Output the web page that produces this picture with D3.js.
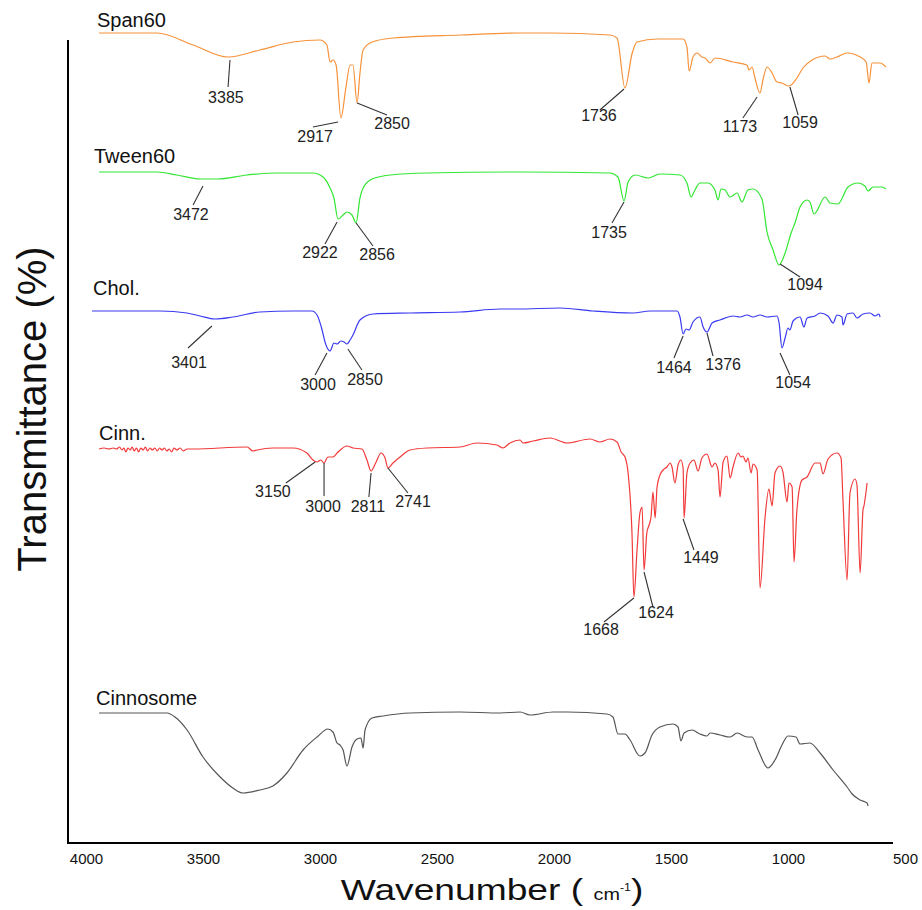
<!DOCTYPE html>
<html>
<head>
<meta charset="utf-8">
<script src="https://cdn.jsdelivr.net/npm/d3@7"></script>
<style>
  body { margin: 0; background: #fff; }
  svg text { font-family: "Liberation Sans", Arial, sans-serif; }
</style>
</head>
<body>
<div id="chart"></div>
<script>
// FTIR spectra, [wavenumber, transmittance (offset within each trace)]
var span60 = [[3921,100],[3681,100],[3531,88],[3386,76],[3254,83],[3117,91],[3005,93],[2976,88],[2963,71],[2951,73],[2938,68],[2918,15],[2897,46],[2880,68],[2868,68],[2851,30],[2839,60],[2826,83],[2789,91],[2702,95],[2424,98],[2175,100],[2051,100],[1802,98],[1773,95],[1740,45],[1710,80],[1690,91],[1607,94],[1499,94],[1483,86],[1474,62],[1458,76],[1441,80],[1421,76],[1408,75],[1387,70],[1367,75],[1292,71],[1234,68],[1226,63],[1213,66],[1201,55],[1180,40],[1168,53],[1151,66],[1130,60],[1110,51],[1089,50],[1060,47],[1027,55],[1002,65],[964,73],[910,77],[890,74],[861,76],[819,80],[765,76],[740,71],[728,50],[716,70],[682,70],[658,66]];

var tween60 = [[3921,100],[3681,100],[3598,97],[3502,93],[3432,93],[3307,97],[3183,99],[3034,99],[2992,95],[2963,84],[2947,74],[2930,53],[2909,57],[2893,60],[2872,57],[2855,49],[2839,74],[2826,84],[2789,93],[2714,97],[2561,99],[2175,100],[1802,99],[1769,95],[1744,71],[1727,90],[1698,97],[1644,94],[1595,98],[1512,97],[1483,89],[1466,75],[1450,82],[1429,89],[1396,89],[1367,82],[1354,72],[1342,83],[1325,82],[1304,75],[1275,79],[1255,70],[1230,82],[1209,83],[1172,73],[1151,40],[1126,22],[1101,7],[1076,19],[1051,39],[1035,49],[1014,65],[985,72],[973,70],[956,58],[910,75],[890,69],[857,68],[815,85],[774,89],[745,86],[732,81],[711,85],[674,85],[658,83]];

var chol = [[3950,100],[3668,100],[3556,98],[3502,95],[3440,92],[3366,94],[3254,99],[3117,100],[3038,100],[3017,96],[2996,81],[2984,69],[2963,60],[2947,68],[2934,67],[2918,70],[2905,69],[2893,67],[2880,71],[2868,76],[2839,91],[2785,97],[2631,98],[2424,99],[2258,102],[2188,102],[2009,103],[1873,100],[1707,98],[1636,100],[1524,100],[1512,94],[1499,77],[1487,82],[1474,81],[1458,89],[1429,94],[1416,84],[1400,79],[1379,88],[1346,91],[1292,95],[1263,94],[1234,96],[1209,94],[1180,96],[1151,94],[1110,95],[1101,88],[1089,63],[1076,73],[1064,83],[1056,81],[1043,90],[1014,94],[998,84],[985,93],[952,95],[931,98],[898,95],[877,88],[861,96],[840,94],[836,86],[819,97],[794,98],[778,93],[753,97],[724,98],[703,95],[687,97],[682,94]];

var cinn = [[3921,99],[3900,100],[3880,99],[3862,100],[3848,99],[3836,101],[3826,98],[3818,100],[3810,96],[3801,100],[3792,98],[3784,101],[3775,97],[3766,100],[3757,96],[3748,100],[3738,98],[3729,101],[3720,97],[3710,100],[3700,98],[3690,100],[3680,97],[3670,100],[3660,98],[3650,100],[3640,97],[3630,99],[3620,96],[3610,100],[3598,98],[3585,100],[3572,97],[3556,99],[3531,99],[3307,101],[3283,97],[3266,98],[3200,100],[3117,100],[3059,95],[3034,88],[3017,86],[3001,88],[2988,85],[2972,91],[2951,91],[2930,96],[2893,102],[2868,100],[2831,99],[2810,88],[2793,77],[2772,86],[2752,95],[2735,90],[2723,80],[2702,85],[2673,91],[2631,98],[2561,100],[2424,101],[2354,105],[2271,103],[2246,100],[2217,105],[2175,108],[2163,105],[2121,107],[2051,110],[1980,105],[1885,109],[1844,106],[1802,109],[1773,106],[1756,96],[1740,91],[1727,75],[1711,15],[1703,-49],[1690,-2],[1678,35],[1669,41],[1661,-22],[1649,16],[1640,23],[1632,31],[1624,56],[1615,30],[1607,61],[1595,73],[1582,78],[1566,81],[1553,85],[1545,81],[1533,65],[1520,83],[1508,88],[1499,80],[1495,30],[1483,75],[1470,85],[1454,88],[1437,77],[1421,90],[1400,94],[1379,81],[1367,85],[1354,78],[1346,51],[1333,86],[1317,92],[1304,70],[1292,81],[1271,95],[1259,91],[1251,92],[1238,86],[1230,90],[1217,75],[1209,84],[1192,78],[1180,-40],[1159,31],[1143,59],[1130,42],[1118,75],[1097,82],[1085,76],[1068,46],[1060,65],[1047,61],[1039,-14],[1027,38],[1006,68],[985,71],[952,85],[931,85],[919,74],[898,89],[861,95],[844,90],[836,48],[819,-32],[807,55],[786,69],[778,63],[765,-25],[753,38],[749,42],[736,65]];

var cinnosome = [[3921,100],[3639,100],[3606,96],[3556,83],[3490,56],[3419,36],[3366,25],[3324,20],[3254,23],[3200,27],[3142,40],[3075,63],[3017,76],[2972,84],[2951,81],[2934,70],[2922,68],[2909,63],[2893,47],[2872,66],[2851,74],[2835,75],[2826,65],[2818,83],[2789,95],[2743,97],[2631,100],[2424,101],[2258,100],[2175,101],[2134,98],[2038,101],[1980,101],[1815,99],[1790,96],[1769,79],[1740,79],[1719,73],[1678,57],[1657,60],[1628,78],[1595,86],[1541,89],[1520,86],[1508,72],[1495,80],[1462,83],[1429,79],[1400,77],[1387,80],[1346,78],[1304,76],[1275,80],[1234,76],[1213,76],[1188,63],[1147,45],[1118,53],[1089,68],[1064,77],[1031,76],[1014,69],[973,70],[931,60],[877,43],[819,26],[798,19],[765,13],[736,10],[732,7]];

// peak call-outs: [label, peak w, peak T, leader end w, leader end T, text w, text T]
var span60Peaks = [["3385",3378,73,3386,46,3395,30],["2917",2930,11,3034,6,3025,-9],["2850",2851,30,2727,18,2706,4],["1736",1744,44,1844,23,1848,12],["1173",1192,36,1251,15,1263,1],["1059",1056,46,1022,18,1014,5]];
var tween60Peaks = [["3472",3490,86,3531,67,3540,52],["2922",2934,50,2984,28,3005,14],["2856",2855,49,2785,26,2768,12],["1735",1744,70,1794,49,1806,34],["1094",1097,8,1014,-5,993,-18]];
var cholPeaks = [["3401",3453,85,3552,63,3548,43],["3000",2976,58,3025,36,3013,21],["2850",2889,62,2831,41,2818,26],["1464",1499,75,1537,53,1537,38],["1376",1400,78,1375,55,1333,41],["1054",1097,58,1056,36,1043,23]];
var cinnPeaks = [["3150",3025,86,3146,65,3200,51],["3000",2988,85,2988,52,2992,36],["2811",2793,75,2802,51,2806,36],["2741",2723,80,2640,55,2619,41],["1668",1703,-50,1827,-74,1839,-87],["1624",1661,-24,1624,-59,1611,-70],["1449",1499,29,1454,-2,1425,-15]];
var cinnosomePeaks = [];

var seriesNames = ["Span60", "Tween60", "Chol.", "Cinn.", "Cinnosome"];
var seriesData = [span60, tween60, chol, cinn, cinnosome];
var seriesPeaks = [span60Peaks, tween60Peaks, cholPeaks, cinnPeaks, cinnosomePeaks];
var seriesOffsets = [710, 571, 432, 295, 30];
var wavenumberTicks = [4000, 3500, 3000, 2500, 2000, 1500, 1000, 500];

// layout
var W = 922, H = 910;
var colors = ["#f7923a", "#33e633", "#3a3af2", "#f23a3a", "#555555"];
var nameShift = [[97, -6], [94, -9], [93, -16], [99, -8], [96, -8]];

var svg = d3.select("#chart").append("svg")
  .attr("width", W).attr("height", H);

// spectra are placed slightly wider than the printed tick labels (as in the source figure)
var x = d3.scaleLinear().domain([4000, 500]).range([80, 924]);
var xTicks = d3.scaleLinear().domain([4000, 500]).range([86, 905]);
var y = d3.scaleLinear().domain([0, 800]).range([843, 43]);

// frame
svg.append("line").attr("x1", 68).attr("x2", 68).attr("y1", 40).attr("y2", 844)
  .attr("stroke", "#000").attr("stroke-width", 2);
svg.append("line").attr("x1", 67).attr("x2", 893).attr("y1", 843).attr("y2", 843)
  .attr("stroke", "#000").attr("stroke-width", 2);

var axis = svg.append("g").attr("transform", "translate(0,843)")
  .call(d3.axisBottom(xTicks).tickValues(wavenumberTicks)
    .tickFormat(d3.format("d")).tickSize(0).tickPadding(10));
axis.select(".domain").remove();
axis.selectAll("text").attr("font-size", 15).attr("fill", "#111")
  .style("font-family", "Liberation Sans, Arial, sans-serif");

var line = d3.line().curve(d3.curveMonotoneX);

seriesData.forEach(function(data, i) {
  var off = seriesOffsets[i];
  line.x(function(d) { return x(d[0]); })
      .y(function(d) { return y(off + d[1]); });
  svg.append("path").datum(data)
    .attr("d", line)
    .attr("fill", "none")
    .attr("stroke", colors[i])
    .attr("stroke-width", 1.2)
    .attr("stroke-linejoin", "round");

  svg.append("text")
    .attr("x", nameShift[i][0])
    .attr("y", y(off + 100) + nameShift[i][1])
    .attr("font-size", 20)
    .attr("fill", "#111")
    .text(seriesNames[i]);

  var g = svg.append("g");
  seriesPeaks[i].forEach(function(p) {
    g.append("line")
      .attr("x1", x(p[1])).attr("y1", y(off + p[2]))
      .attr("x2", x(p[3])).attr("y2", y(off + p[4]))
      .attr("stroke", "#333").attr("stroke-width", 1.1);
    g.append("text")
      .attr("x", x(p[5])).attr("y", y(off + p[6]))
      .attr("text-anchor", "middle")
      .attr("font-size", 16)
      .attr("fill", "#222")
      .text(p[0]);
  });
});

// axis titles
svg.append("text")
  .attr("transform", "translate(46,409) rotate(-90)")
  .attr("text-anchor", "middle")
  .attr("font-size", 40)
  .attr("fill", "#111")
  .text("Transmittance (%)");

var xt = svg.append("text")
  .attr("transform", "translate(492,900) scale(1.24,1)")
  .attr("text-anchor", "middle")
  .attr("fill", "#111");
xt.append("tspan").attr("font-size", 30).text("Wavenumber ( ");
xt.append("tspan").attr("font-size", 16).text("cm");
xt.append("tspan").attr("font-size", 10).attr("dy", -9).text("-1");
xt.append("tspan").attr("font-size", 30).attr("dy", 9).text(")");
</script>
</body>
</html>
